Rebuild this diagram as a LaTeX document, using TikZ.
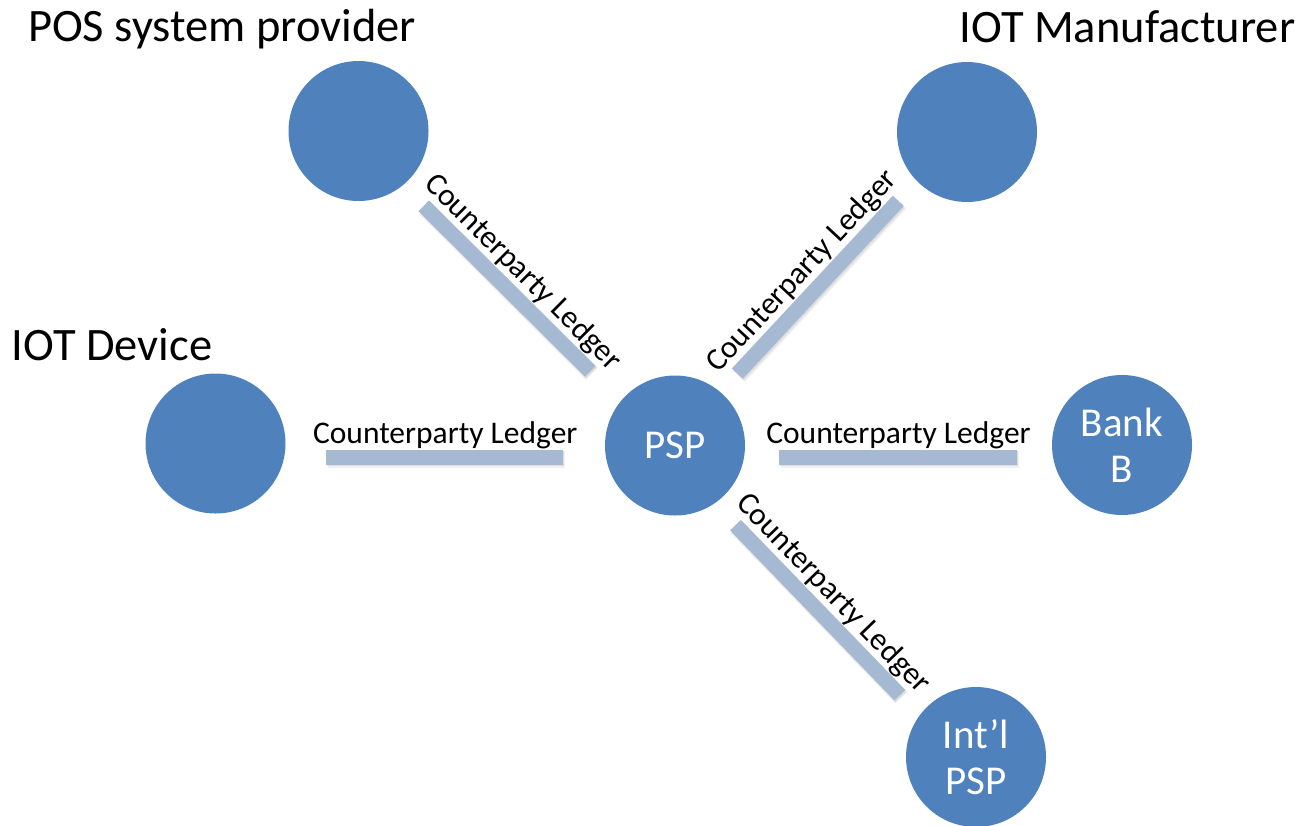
\documentclass[tikz,border=0pt]{standalone}
\usepackage{fontspec}
\setmainfont{Carlito}
\definecolor{circblue}{HTML}{4F81BD}
\definecolor{barblue}{RGB}{166,185,211}
\begin{document}
\begin{tikzpicture}[x=1pt,y=-1pt,
  party/.style={circle, fill=circblue, draw=none, minimum size=140pt,
    inner sep=0pt, outer sep=0pt, text=white,
    font=\fontsize{41}{46}\selectfont, align=center},
  title/.style={anchor=base, inner sep=0pt, font=\fontsize{46.5}{54}\selectfont},
  ledger/.style={line width=15pt, draw=barblue,
    preaction={draw=black, opacity=0.06, line width=17pt,
      transform canvas={shift={(1.5,2.5)}}},
    preaction={draw=black, opacity=0.08, line width=15pt,
      transform canvas={shift={(1,1.8)}}}},
  ledgerlabel/.style={sloped, anchor=south, inner sep=0pt, outer sep=8pt,
    text depth=6pt, font=\fontsize{31.5}{36}\selectfont, text=black}
]
\useasboundingbox (0,0) rectangle (1305,825);

% parties
\node[party] (posprov) at (358.5,131) {};
\node[party] (mfr) at (967,132) {};
\node[party] (dev) at (215.5,443.5) {};
\node[party] (psp) at (675,445.5) {PSP};
\node[party] (bank) at (1122,445) {Bank\\B};
\node[party] (intl) at (976,757) {Int’l\\PSP};

% captions
\node[title] (posprovT) at (222,41) {POS system provider};
\node[title] (mfrT) at (1127.5,42) {IOT Manufacturer};
\node[title] (devT) at (112,360) {IOT Device};

% counterparty ledgers
\draw[ledger, shorten <=99pt, shorten >=112.4pt]
  ([shift={(-5,5)}]posprov.center) -- node[ledgerlabel, pos=0.485] {Counterparty Ledger}
  ([shift={(-5,5)}]psp.center);
\draw[ledger, shorten <=95.2pt, shorten >=97.1pt]
  ([shift={(-2.5,-2.3)}]psp.center) -- node[ledgerlabel] {Counterparty Ledger}
  ([shift={(-2.5,-2.3)}]mfr.center);
\draw[ledger, shorten <=99.3pt, shorten >=97.4pt]
  ([shift={(-8.5,8.2)}]psp.center) -- node[ledgerlabel] {Counterparty Ledger}
  ([shift={(-8.5,8.2)}]intl.center);
\draw[ledger, shorten <=110.5pt, shorten >=112pt]
  ([shift={(0,13.5)}]dev.center) -- node[ledgerlabel] {Counterparty Ledger}
  ([shift={(0,11.5)}]psp.center);
\draw[ledger, shorten <=104pt, shorten >=105pt]
  ([shift={(0,11.5)}]psp.center) -- node[ledgerlabel] {Counterparty Ledger}
  ([shift={(0,12)}]bank.center);
\end{tikzpicture}
\end{document}
